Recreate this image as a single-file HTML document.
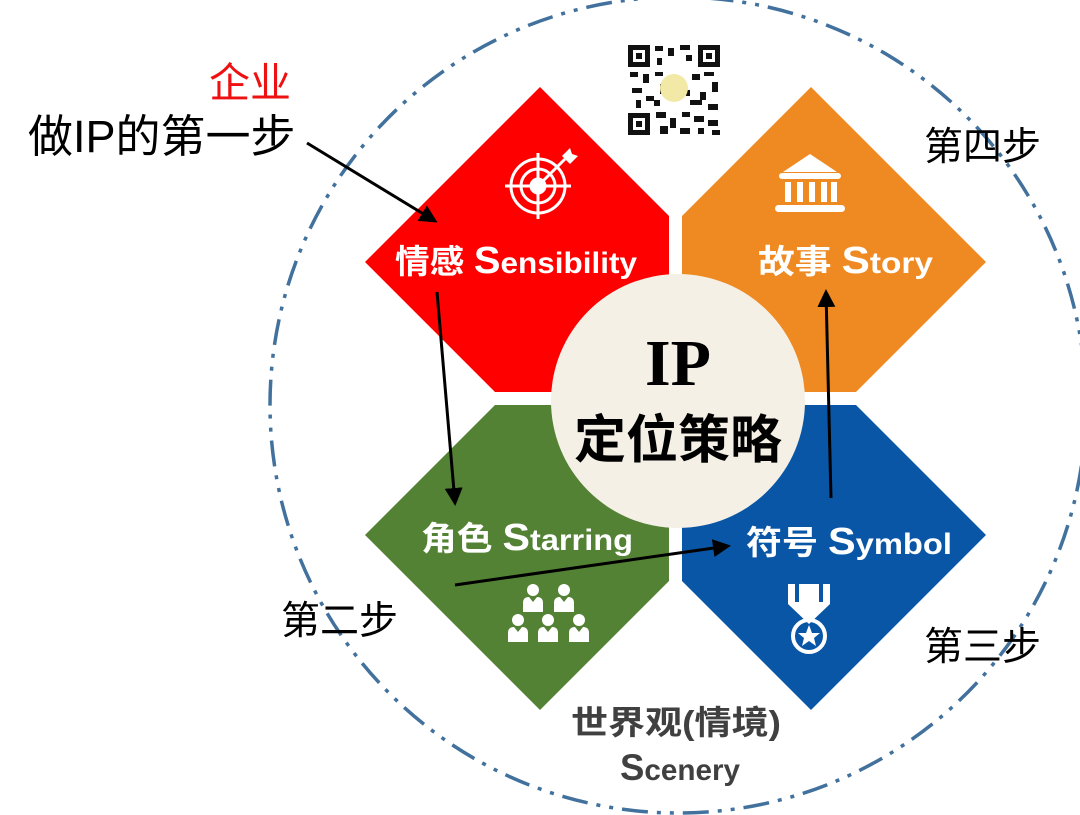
<!DOCTYPE html>
<html><head><meta charset="utf-8"><style>
html,body{margin:0;padding:0;background:#fff;}
svg{display:block;}
.cj{font-family:"Liberation Sans","Noto Sans CJK SC",sans-serif;}
</style></head><body>
<svg width="1080" height="815" viewBox="0 0 1080 815" xmlns="http://www.w3.org/2000/svg">
<defs>
<marker id="ah" markerWidth="6" markerHeight="6" refX="5" refY="3" orient="auto" markerUnits="strokeWidth">
<path d="M0,0 L6,3 L0,6 Z" fill="#000"/></marker>
<clipPath id="cr"><rect x="0" y="0" width="669" height="392"/></clipPath>
<clipPath id="co"><rect x="682" y="0" width="400" height="392"/></clipPath>
<clipPath id="cg"><rect x="0" y="405" width="669" height="410"/></clipPath>
<clipPath id="cb"><rect x="682" y="405" width="400" height="410"/></clipPath>
</defs>
<circle cx="678" cy="405" r="408" fill="none" stroke="#41719c" stroke-width="3.5" stroke-dasharray="26 9 4 9 4 9"/>
<polygon clip-path="url(#cr)" points="540,87 715,262 540,437 365,262" fill="#ff0000"/>
<polygon clip-path="url(#co)" points="811,87 986,262 811,437 636,262" fill="#ef8a22"/>
<polygon clip-path="url(#cg)" points="540,360 715,535 540,710 365,535" fill="#548235"/>
<polygon clip-path="url(#cb)" points="811,360 986,535 811,710 636,535" fill="#0a56a6"/>
<circle cx="678" cy="401" r="127" fill="#f4f0e6"/>
<text x="678" y="385" text-anchor="middle" font-family="Liberation Serif,serif" font-weight="bold" font-size="66">IP</text>
<text x="678" y="458" text-anchor="middle" class="cj" font-weight="bold" font-size="52">定位策略</text>
<g class="cj" fill="#fff" font-weight="bold">
<text x="395" y="273" font-size="33" textLength="242" lengthAdjust="spacingAndGlyphs">情感 <tspan font-size="38">S</tspan><tspan font-size="30">ensibility</tspan></text>
<text x="758" y="273" font-size="33" textLength="175" lengthAdjust="spacingAndGlyphs">故事 <tspan font-size="38">S</tspan><tspan font-size="30">tory</tspan></text>
<text x="421" y="550" font-size="33" textLength="212" lengthAdjust="spacingAndGlyphs">角色 <tspan font-size="38">S</tspan><tspan font-size="30">tarring</tspan></text>
<text x="746" y="554" font-size="33" textLength="206" lengthAdjust="spacingAndGlyphs">符号 <tspan font-size="38">S</tspan><tspan font-size="30">ymbol</tspan></text>
</g>
<g stroke="#fff" fill="none" stroke-width="3">
<circle cx="538" cy="186" r="27"/><circle cx="538" cy="186" r="17"/><circle cx="538" cy="186" r="7" fill="#fff"/>
<line x1="505" y1="186" x2="571" y2="186"/><line x1="538" y1="153" x2="538" y2="219"/>
<line x1="538" y1="186" x2="565" y2="159"/>
</g>
<path d="M562,156 l8,-8 l2,6 l6,2 l-8,8 z" fill="#fff"/>
<g fill="#fff">
<polygon points="810,154 783,172 837,172"/>
<rect x="779" y="173" width="62" height="6" rx="3"/>
<rect x="785" y="182" width="6" height="20"/><rect x="797" y="182" width="6" height="20"/><rect x="809" y="182" width="6" height="20"/><rect x="821" y="182" width="6" height="20"/><rect x="831" y="182" width="6" height="20"/>
<rect x="775" y="205" width="70" height="7" rx="3.5"/>
</g>
<g fill="#fff">
<g id="p"><circle cx="0" cy="0" r="6"/><path d="M-10,22 L-10,13 Q-10,7 -4,7 L0,12 L4,7 Q10,7 10,13 L10,22 Z"/></g>
<use href="#p" x="533" y="590"/><use href="#p" x="564" y="590"/>
<use href="#p" x="518" y="620"/><use href="#p" x="548" y="620"/><use href="#p" x="579" y="620"/>
</g>
<g fill="#fff"><path d="M788,584 h42 v20 l-21,20 l-21,-20 z"/></g>
<path d="M797,584 v18 M821,584 v18" stroke="#0a56a6" stroke-width="4"/>
<circle cx="809" cy="636" r="16" fill="none" stroke="#fff" stroke-width="4"/>
<polygon points="809,625 812,633 820,633 814,638 816,646 809,641 802,646 804,638 798,633 806,633" fill="#fff"/>
<g>
<rect x="628" y="45" width="92" height="90" fill="#fff"/>
<g fill="#111">
<rect x="628" y="45" width="22" height="22"/><rect x="633" y="50" width="12" height="12" fill="#fff"/><rect x="636" y="53" width="6" height="6"/>
<rect x="698" y="45" width="22" height="22"/><rect x="703" y="50" width="12" height="12" fill="#fff"/><rect x="706" y="53" width="6" height="6"/>
<rect x="628" y="113" width="22" height="22"/><rect x="633" y="118" width="12" height="12" fill="#fff"/><rect x="636" y="121" width="6" height="6"/>
<rect x="655" y="46" width="8" height="5"/><rect x="668" y="48" width="6" height="8"/><rect x="680" y="45" width="10" height="5"/><rect x="657" y="58" width="5" height="7"/><rect x="686" y="55" width="6" height="6"/>
<rect x="630" y="72" width="8" height="5"/><rect x="643" y="74" width="6" height="9"/><rect x="632" y="88" width="10" height="5"/><rect x="636" y="100" width="5" height="8"/><rect x="646" y="96" width="8" height="5"/>
<rect x="655" y="72" width="8" height="4"/><rect x="660" y="84" width="4" height="10"/><rect x="692" y="74" width="8" height="6"/><rect x="704" y="72" width="10" height="4"/><rect x="712" y="82" width="6" height="10"/>
<rect x="700" y="92" width="6" height="8"/><rect x="690" y="100" width="12" height="5"/><rect x="708" y="104" width="10" height="6"/>
<rect x="656" y="112" width="10" height="6"/><rect x="670" y="118" width="6" height="10"/><rect x="682" y="112" width="8" height="5"/><rect x="694" y="116" width="10" height="6"/><rect x="708" y="120" width="10" height="6"/>
<rect x="660" y="126" width="8" height="8"/><rect x="680" y="128" width="10" height="6"/><rect x="698" y="128" width="6" height="6"/><rect x="712" y="130" width="8" height="5"/>
<rect x="654" y="100" width="6" height="6"/><rect x="686" y="90" width="4" height="6"/>
</g>
<circle cx="674" cy="88" r="14" fill="#f3e9a6"/>
</g>
<g stroke="#000" stroke-width="3" fill="none">
<line x1="307" y1="143" x2="435" y2="221" marker-end="url(#ah)"/>
<line x1="437" y1="292" x2="455" y2="503" marker-end="url(#ah)"/>
<line x1="455" y1="585" x2="728" y2="546" marker-end="url(#ah)"/>
<line x1="831" y1="498" x2="826" y2="292" marker-end="url(#ah)"/>
</g>
<g class="cj">
<text x="209" y="97" font-size="41" fill="#ee1111">企业</text>
<text x="28" y="152" font-size="45" fill="#000">做IP的第一步</text>
<text x="924" y="160" font-size="39" fill="#000">第四步</text>
<text x="281" y="634" font-size="39" fill="#000">第二步</text>
<text x="924" y="660" font-size="39" fill="#000">第三步</text>
<text x="571" y="734" font-size="33" font-weight="bold" fill="#404040" textLength="210" lengthAdjust="spacingAndGlyphs">世界观(情境)</text>
<text x="620" y="780" font-size="30" font-weight="bold" fill="#404040" textLength="120" lengthAdjust="spacingAndGlyphs"><tspan font-size="37">S</tspan>cenery</text>
</g>
</svg>
</body></html>
